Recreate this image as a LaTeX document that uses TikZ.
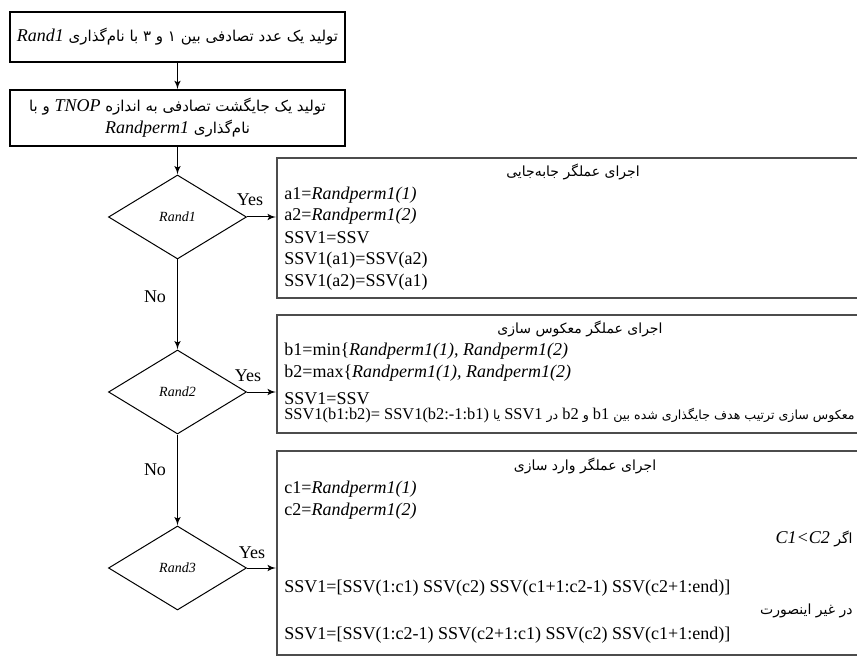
\documentclass[tikz,border=0pt]{standalone}
\usepackage{fontspec}
\setmainfont{Liberation Serif}
\newfontfamily\fafont[Script=Arabic]{DejaVu Sans}
\TeXXeTstate=1
\usetikzlibrary{shapes,arrows}
\newcommand{\lat}[1]{\beginL{\rmfamily #1}\endL}
\tikzstyle{block} = [rectangle, draw, line width=0.75pt, inner sep=0pt, align=center]
\tikzstyle{opbox} = [rectangle, draw=black!70, line width=1pt, inner sep=0pt]
\tikzstyle{decision} = [diamond, draw, line width=0.5pt, inner sep=0pt, minimum width=69pt, minimum height=42pt, font=\fontsize{7}{8}\selectfont\itshape]
\tikzstyle{txt} = [inner sep=0pt, anchor=west, font=\fontsize{9}{10}\selectfont]
\tikzstyle{fatxt} = [inner sep=0pt, font=\fontsize{7}{9}\fafont]
\tikzstyle{lbl} = [inner sep=0pt, font=\fontsize{9}{10}\selectfont]
\tikzstyle{line} = [draw, line width=0.5pt, -latex']

\begin{document}
\begin{tikzpicture}[x=0.5pt, y=-0.5pt]
\useasboundingbox (0, 0) rectangle (857, 663);
\clip (0, 0) rectangle (857, 663);

% start
\node [block, minimum width=167.5pt, minimum height=25pt, font=\fontsize{7.5}{10}\fafont] at (177.5, 37) (init) {\beginR تولید یک عدد تصادفی بین ۱ و ۳ با نام‌گذاری \lat{\fontsize{9}{10}\selectfont\itshape Rand1}\endR};
\node [block, minimum width=167.5pt, minimum height=28pt, font=\fontsize{7.5}{11}\fafont] at (177.5, 118) (perm) {\beginR تولید یک جایگشت تصادفی به اندازه \lat{\fontsize{9}{10}\selectfont\itshape TNOP} و با\endR\\ \beginR نام‌گذاری \lat{\fontsize{9}{10}\selectfont\itshape Randperm1}\endR};
\path [line] (init.south) to (perm.north);

% decisions
\node [decision] at (177.5, 217) (d1) {Rand1};
\node [decision] at (177.5, 392) (d2) {Rand2};
\node [decision] at (177.5, 568) (d3) {Rand3};
\path [line] (perm.south) to (d1.north);
\path [line] (d1.south) to (d2.north);
\path [line] (d2.south) to (d3.north);
\node [lbl] at (155, 297) (no1) {No};
\node [lbl] at (155, 470) (no2) {No};

% swap
\node [opbox, minimum width=330pt, minimum height=70pt] at (607, 228) (swap) {};
\path [line] (d1.east) to (d1.east -| swap.west);
\node [lbl] at (250, 200) (yes1) {Yes};
\node [fatxt] at (573, 172) (swapt) {\beginR اجرای عملگر جابه‌جایی\endR};
\node [txt] at (284, 195) (a1) {a1=\textit{Randperm1(1)}};
\node [txt] at (284, 216) (a2) {a2=\textit{Randperm1(2)}};
\node [txt] at (284, 238) (a3) {SSV1=SSV};
\node [txt] at (284, 260) (a4) {SSV1(a1)=SSV(a2)};
\node [txt] at (284, 282) (a5) {SSV1(a2)=SSV(a1)};

% reverse
\node [opbox, minimum width=330pt, minimum height=59pt] at (607, 374) (rev) {};
\path [line] (d2.east) to (d2.east -| rev.west);
\node [lbl] at (248, 376) (yes2) {Yes};
\node [fatxt] at (580, 329) (revt) {\beginR اجرای عملگر معکوس سازی\endR};
\node [txt] at (284, 351) (b1) {b1=min\{\textit{Randperm1(1), Randperm1(2)}};
\node [txt] at (284, 373) (b2) {b2=max\{\textit{Randperm1(1), Randperm1(2)}};
\node [txt] at (284, 399) (b3) {SSV1=SSV};
\node [fatxt, anchor=east, font=\fontsize{6.3}{8}\fafont] at (855, 416) (b4) {\beginR معکوس سازی ترتیب هدف جایگذاری شده بین \lat{\fontsize{8.2}{10}\selectfont b1} و \lat{\fontsize{8.2}{10}\selectfont b2} در \lat{\fontsize{8.2}{10}\selectfont SSV1} یا \lat{\fontsize{8.2}{10}\selectfont SSV1(b1:b2)= SSV1(b2:-1:b1)}\endR};

% insert
\node [opbox, minimum width=330pt, minimum height=102pt] at (607, 553) (ins) {};
\path [line] (d3.east) to (d3.east -| ins.west);
\node [lbl] at (252, 553) (yes3) {Yes};
\node [fatxt] at (585, 466) (inst) {\beginR اجرای عملگر وارد سازی\endR};
\node [txt] at (284, 489) (c1) {c1=\textit{Randperm1(1)}};
\node [txt] at (284, 511) (c2) {c2=\textit{Randperm1(2)}};
\node [fatxt, anchor=east] at (853, 539) (cif) {\beginR اگر \lat{\fontsize{9}{10}\selectfont\itshape C1<C2}\endR};
\node [txt] at (284, 588) (c3) {SSV1=[SSV(1:c1) SSV(c2) SSV(c1+1:c2-1) SSV(c2+1:end)]};
\node [fatxt, anchor=east] at (853, 611) (celse) {\beginR در غیر اینصورت\endR};
\node [txt] at (284, 635) (c4) {SSV1=[SSV(1:c2-1) SSV(c2+1:c1) SSV(c2) SSV(c1+1:end)]};

\end{tikzpicture}
\end{document}
